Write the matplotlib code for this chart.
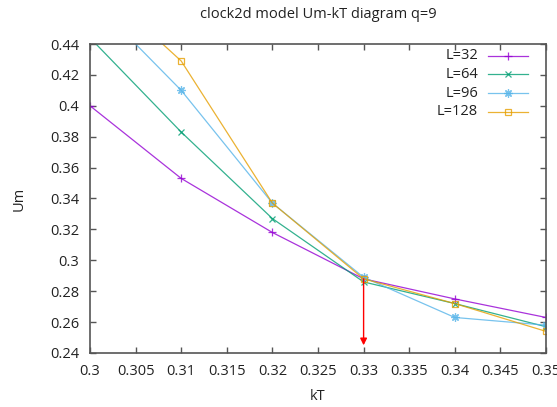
import matplotlib.pyplot as plt
import numpy as np

plt.rcParams['font.family'] = ['Open Sans', 'DejaVu Sans']

kT = [0.30, 0.31, 0.32, 0.33, 0.34, 0.35]
um_L32 = [0.400, 0.353, 0.318, 0.288, 0.275, 0.263]
um_L64 = [0.444, 0.383, 0.327, 0.286, 0.272, 0.257]
um_L96 = [0.470, 0.410, 0.337, 0.289, 0.263, 0.258]
um_L128 = [0.483, 0.429, 0.337, 0.288, 0.272, 0.254]

x_ticks = [0.3, 0.305, 0.31, 0.315, 0.32, 0.325, 0.33, 0.335, 0.34, 0.345, 0.35]
y_ticks = [0.24, 0.26, 0.28, 0.3, 0.32, 0.34, 0.36, 0.38, 0.4, 0.42, 0.44]

# transition estimate marked with an arrow
kT_c = 0.33
arrow_from = 0.288
arrow_to = 0.245

fig = plt.figure(figsize=(5.57, 4.07), dpi=100)
ax = fig.add_axes([90 / 557, 54 / 407, 456 / 557, 309 / 407])

series = [
    ('L=32', um_L32, '#9400d3', '+', 6),
    ('L=64', um_L64, '#009e73', 'x', 5),
    ('L=96', um_L96, '#56b4e9', (8, 2, 0), 6),
    ('L=128', um_L128, '#e69f00', 's', 5),
]
style = dict(lw=0.9, mfc='none', mew=0.9, alpha=0.8)
for i, (label, vals, color, marker, ms) in enumerate(series):
    ax.plot(kT, vals, color=color, marker=marker, ms=ms, mec=color, **style)

    # gnuplot-style key: right-aligned label followed by a line sample
    ky = 0.962 - i * 0.0605
    ax.text(0.851, ky, label, transform=ax.transAxes, ha='right', va='center',
            fontsize=10.5, color='#222222')
    ax.plot([0.873, 0.961], [ky, ky], transform=ax.transAxes, color=color,
            clip_on=False, **style)
    ax.plot([0.917], [ky], transform=ax.transAxes, color=color, marker=marker,
            ms=ms, mec=color, clip_on=False, **style)

ax.annotate('', xy=(kT_c, arrow_to), xytext=(kT_c, arrow_from),
            arrowprops=dict(arrowstyle='-|>', color='#ff0000', lw=1,
                            mutation_scale=10, shrinkA=0, shrinkB=0))

ax.set_xlim(0.3, 0.35)
ax.set_ylim(0.24, 0.44)
ax.set_xticks(x_ticks)
ax.set_yticks(y_ticks)
ax.set_xticklabels(['%g' % t for t in x_ticks])
ax.set_yticklabels(['%g' % t for t in y_ticks])
ax.tick_params(direction='in', length=4, width=1, color='#555555',
               top=True, right=True, labelsize=10.5, labelcolor='#222222', pad=8)
for s in ax.spines.values():
    s.set_color('#555555')
    s.set_linewidth(1.2)

ax.set_xlabel('kT', fontsize=10.5, color='#222222', labelpad=7)
ax.set_ylabel('Um', fontsize=10.5, color='#222222', labelpad=17)
fig.text(318 / 557, 1 - 14 / 407, 'clock2d model Um-kT diagram q=9',
         ha='center', va='center', fontsize=10.5, color='#222222')

plt.savefig('out.png', dpi=100)
